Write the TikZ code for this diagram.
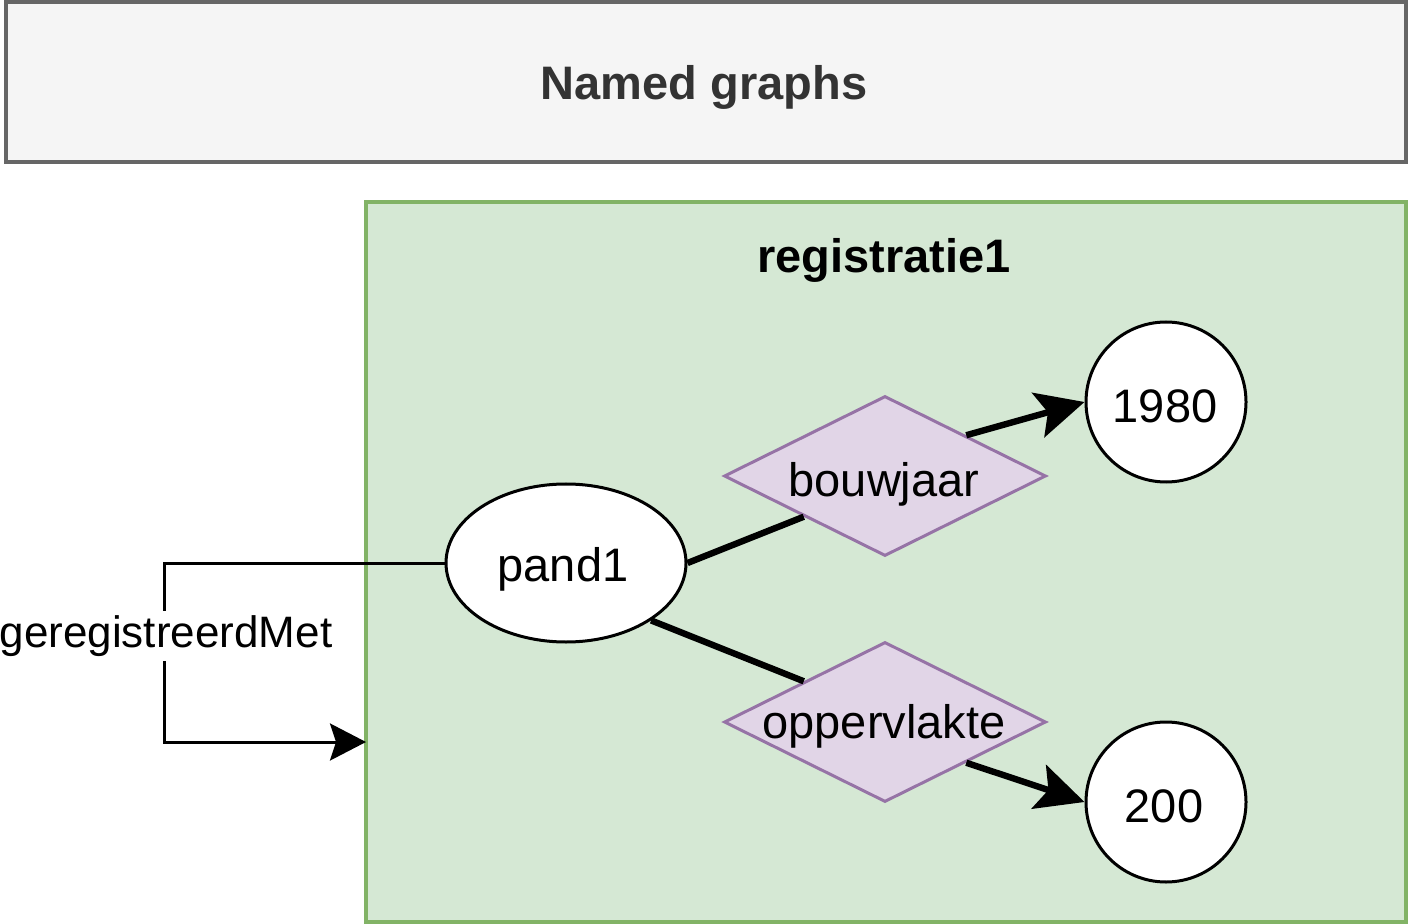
\documentclass[tikz,border=0pt]{standalone}
\usepackage{fontspec}
\setmainfont{Liberation Sans}
\usetikzlibrary{shapes.geometric,arrows.meta,calc}
\definecolor{hdrfill}{HTML}{F5F5F5}
\definecolor{hdrline}{HTML}{666666}
\definecolor{hdrtext}{HTML}{333333}
\definecolor{grfill}{HTML}{D5E8D4}
\definecolor{grline}{HTML}{82B366}
\definecolor{pufill}{HTML}{E1D5E7}
\definecolor{puline}{HTML}{9673A6}
\tikzset{
  hdrbox/.style={draw=hdrline, fill=hdrfill, line width=2pt, minimum width=700pt, minimum height=80pt, inner sep=0pt},
  grbox/.style={draw=grline, fill=grfill, line width=2pt, minimum width=520pt, minimum height=360pt, inner sep=0pt},
  ell/.style={ellipse, draw=black, fill=white, line width=1.5pt, minimum width=120pt, minimum height=79pt, inner sep=0pt},
  dia/.style={diamond, draw=puline, fill=pufill, line width=1.5pt, minimum width=161pt, minimum height=80pt, inner sep=0pt},
  circ/.style={circle, draw=black, fill=white, line width=1.5pt, minimum size=80pt, inner sep=0pt},
  txt/.style={font=\fontsize{23.5}{28}\selectfont, inner sep=0pt},
  bold/.style={font=\fontsize{23.5}{28}\selectfont\bfseries, inner sep=0pt},
  lbl/.style={font=\fontsize{22}{26}\selectfont, fill=white, inner sep=2pt},
  thick edge/.style={line width=3.2pt},
  thick arrow/.style={line width=3.2pt, -{Stealth[length=24pt, width=23pt, inset=5pt]}},
  thin arrow/.style={line width=1.5pt, -{Stealth[length=18pt, width=18.5pt, inset=3pt]}},
}
\begin{document}
\begin{tikzpicture}[x=0.5pt, y=-0.5pt]
\useasboundingbox (0,0) rectangle (1412,924);
\node[hdrbox] (hdr) at (706,82) {};
\node[bold, text=hdrtext] (hdrt) at (704,87) {Named graphs};
\node[grbox] (gb) at (886,562) {};
\node[bold] (title) at (884,260) {registratie1};
\node[ell] (p) at (566,563) {};
\node[txt] (pt) at (563,569) {pand1};
\node[dia] (bj) at (885,476) {};
\node[txt] (bjt) at (884,484) {bouwjaar};
\node[dia] (op) at (885,722) {};
\node[txt] (opt) at (884,726) {oppervlakte};
\node[circ] (c1) at (1166,402) {};
\node[txt] (c1t) at (1165,406) {1980};
\node[circ] (c2) at (1166,802) {};
\node[txt] (c2t) at (1164,806) {200};
\coordinate (gin) at (366,742);
\draw[thick edge] (p.east) -- ($(bj.west)!0.5!(bj.south)$);
\draw[thick arrow] ($(bj.north)!0.5!(bj.east)$) -- (c1.west);
\draw[thick edge] (p.-34) -- ($(op.west)!0.5!(op.north)$);
\draw[thick arrow] ($(op.south)!0.5!(op.east)$) -- (c2.west);
\draw[thin arrow] (p.west) -- ++(-280,0) |- (gin);
\node[lbl] (gl) at (166,636) {geregistreerdMet};
\end{tikzpicture}
\end{document}
